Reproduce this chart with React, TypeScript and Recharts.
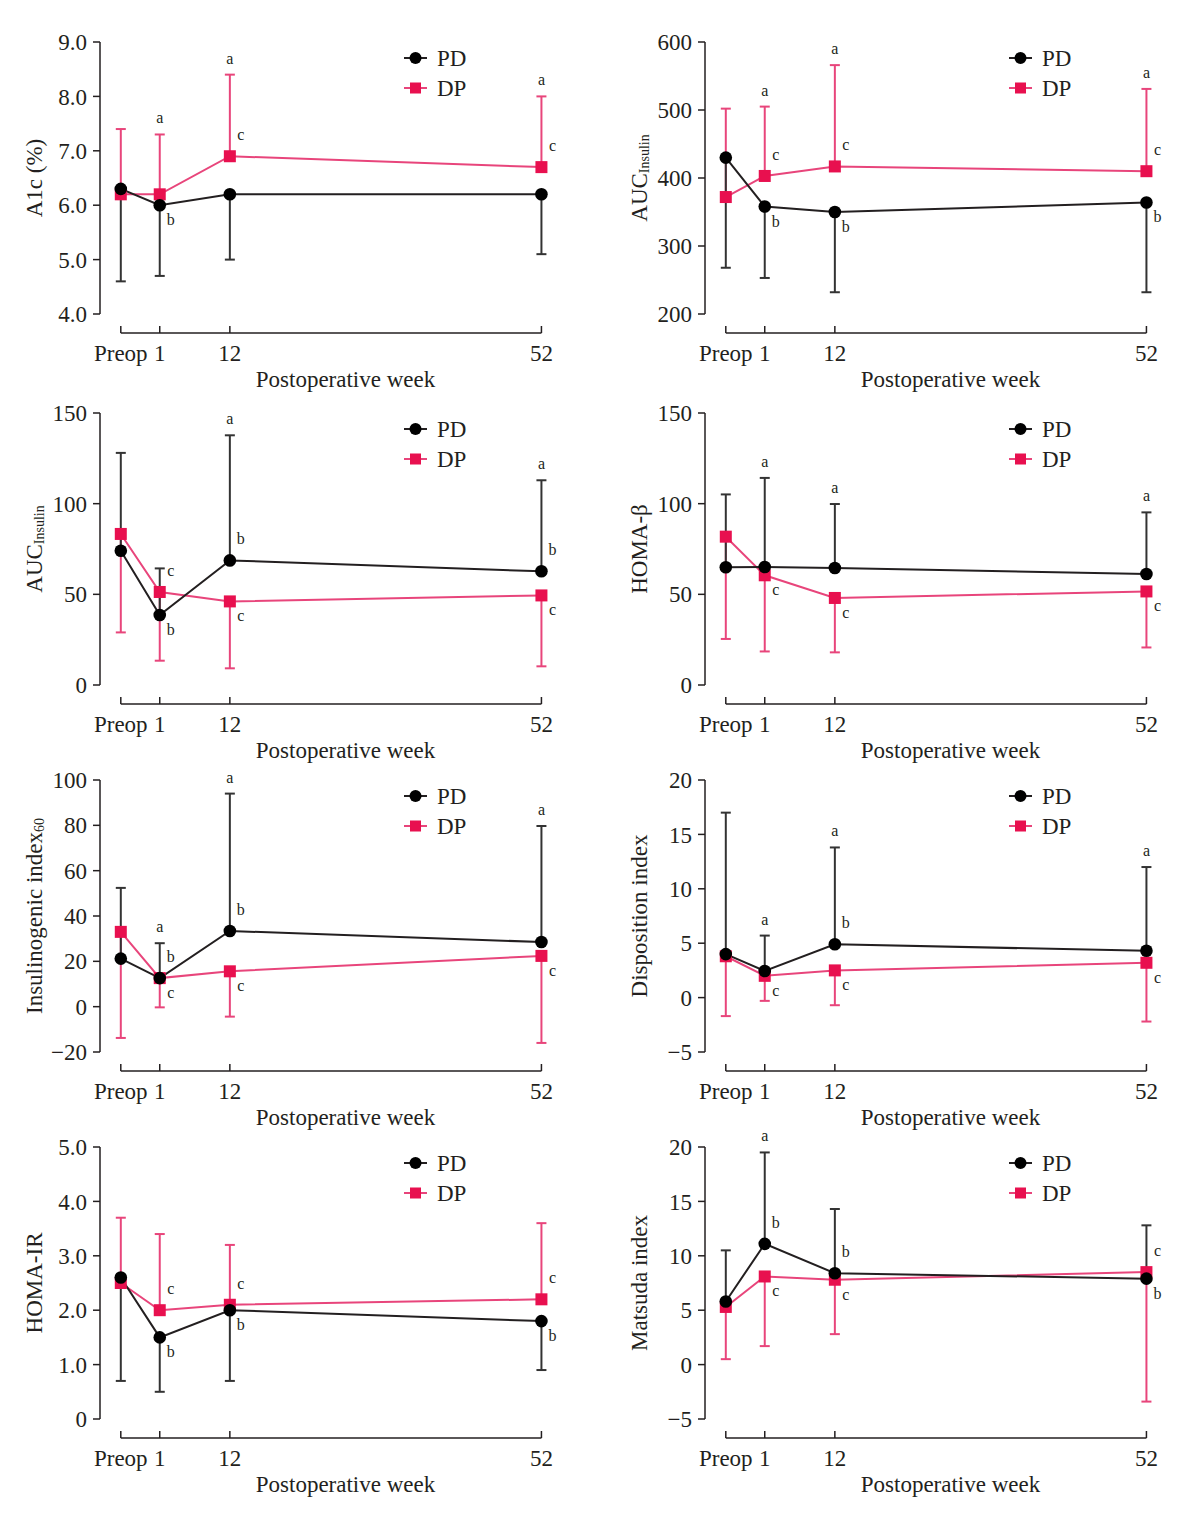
import { ComposedChart, Line, XAxis, YAxis, ErrorBar, LabelList, ReferenceLine, Legend } from 'recharts'

const WEEKS = ['Preop', '1', '12', '52']
// where each visit sits on the (not to scale) time axis
const WEEK_POS = [-4, 1, 10, 50]

// A1c (%)
const a1cPD = [6.3, 6.0, 6.2, 6.2]
const a1cPDEnd = [4.6, 4.7, 5.0, 5.1]
const a1cDP = [6.2, 6.2, 6.9, 6.7]
const a1cDPEnd = [7.4, 7.3, 8.4, 8.0]
const a1cTicks = [4, 5, 6, 7, 8, 9]

// AUC insulin (top right)
const aucPD = [430, 358, 350, 364]
const aucPDEnd = [268, 253, 232, 232]
const aucDP = [372, 403, 417, 410]
const aucDPEnd = [502, 505, 566, 531]
const aucTicks = [200, 300, 400, 500, 600]

// AUC insulin (second row left)
const auc2PD = [74, 38.6, 68.7, 62.7]
const auc2PDEnd = [128, 64.3, 137.7, 112.9]
const auc2DP = [83.3, 51.3, 46.1, 49.4]
const auc2DPEnd = [29, 13.4, 9.2, 10.3]
const auc2Ticks = [0, 50, 100, 150]

// HOMA-beta
const betaPD = [64.9, 65.1, 64.5, 61.2]
const betaPDEnd = [105.1, 114.2, 99.8, 95.2]
const betaDP = [81.8, 60.5, 48, 51.6]
const betaDPEnd = [25.4, 18.5, 18, 20.7]
const betaTicks = [0, 50, 100, 150]

// Insulinogenic index 60
const igiPD = [21.2, 12.6, 33.4, 28.5]
const igiPDEnd = [52.4, 28, 94, 79.7]
const igiDP = [33, 12.6, 15.6, 22.4]
const igiDPEnd = [-13.8, -0.3, -4.4, -16]
const igiTicks = [-20, 0, 20, 40, 60, 80, 100]

// Disposition index
const diPD = [4.0, 2.45, 4.9, 4.3]
const diPDEnd = [17.0, 5.7, 13.8, 12.0]
const diDP = [3.8, 2.0, 2.5, 3.2]
const diDPEnd = [-1.7, -0.3, -0.7, -2.2]
const diTicks = [-5, 0, 5, 10, 15, 20]

// HOMA-IR
const irPD = [2.6, 1.5, 2.0, 1.8]
const irPDEnd = [0.7, 0.5, 0.7, 0.9]
const irDP = [2.5, 2.0, 2.1, 2.2]
const irDPEnd = [3.7, 3.4, 3.2, 3.6]
const irTicks = [0, 1, 2, 3, 4, 5]

// Matsuda index
const msPD = [5.8, 11.1, 8.4, 7.9]
const msPDEnd = [10.5, 19.5, 14.3, 12.8]
const msDP = [5.3, 8.1, 7.8, 8.5]
const msDPEnd = [0.5, 1.7, 2.8, -3.4]
const msTicks = [-5, 0, 5, 10, 15, 20]

const NONE = ['', '', '', '']

const FONT = '"Liberation Serif", "Times New Roman", serif'
const INK = '#231f20'
const DP_LINE = '#e8457b'
const DP_FILL = '#e8104f'
const FS = 23

const CHART_W = 580
const CHART_H = 393
const TOP = 42
const X_H = 60
const PLOT_H = CHART_H - TOP - X_H
const TICK_SPAN = 272
const X_MIN = -6.67
const X_MAX = 52.64

interface PanelDef {
  left: number
  top: number
  label: string
  sub?: string
  decimals: number
  ticks: number[]
  pd: number[]
  pdEnd: number[]
  dp: number[]
  dpEnd: number[]
  pdTop: string[]
  pdSide: string[]
  dpTop: string[]
  dpSide: string[]
}

const COL = [0, 605]
const ROW = [0, 371, 738, 1105]

const PANELS: PanelDef[] = [
  { left: COL[0], top: ROW[0], label: 'A1c (%)', decimals: 1, ticks: a1cTicks, pd: a1cPD, pdEnd: a1cPDEnd, dp: a1cDP, dpEnd: a1cDPEnd,
    pdTop: NONE, pdSide: ['', 'b', '', ''], dpTop: ['', 'a', 'a', 'a'], dpSide: ['', '', 'c', 'c'] },
  { left: COL[1], top: ROW[0], label: 'AUC', sub: 'Insulin', decimals: 0, ticks: aucTicks, pd: aucPD, pdEnd: aucPDEnd, dp: aucDP, dpEnd: aucDPEnd,
    pdTop: NONE, pdSide: ['', 'b', 'b', 'b'], dpTop: ['', 'a', 'a', 'a'], dpSide: ['', 'c', 'c', 'c'] },
  { left: COL[0], top: ROW[1], label: 'AUC', sub: 'Insulin', decimals: 0, ticks: auc2Ticks, pd: auc2PD, pdEnd: auc2PDEnd, dp: auc2DP, dpEnd: auc2DPEnd,
    pdTop: ['', '', 'a', 'a'], pdSide: ['', 'b', 'b', 'b'], dpTop: NONE, dpSide: ['', 'c', 'c', 'c'] },
  { left: COL[1], top: ROW[1], label: 'HOMA-β', decimals: 0, ticks: betaTicks, pd: betaPD, pdEnd: betaPDEnd, dp: betaDP, dpEnd: betaDPEnd,
    pdTop: ['', 'a', 'a', 'a'], pdSide: NONE, dpTop: NONE, dpSide: ['', 'c', 'c', 'c'] },
  { left: COL[0], top: ROW[2], label: 'Insulinogenic index', sub: '60', decimals: 0, ticks: igiTicks, pd: igiPD, pdEnd: igiPDEnd, dp: igiDP, dpEnd: igiDPEnd,
    pdTop: ['', 'a', 'a', 'a'], pdSide: ['', 'b', 'b', ''], dpTop: NONE, dpSide: ['', 'c', 'c', 'c'] },
  { left: COL[1], top: ROW[2], label: 'Disposition index', decimals: 0, ticks: diTicks, pd: diPD, pdEnd: diPDEnd, dp: diDP, dpEnd: diDPEnd,
    pdTop: ['', 'a', 'a', 'a'], pdSide: ['', '', 'b', ''], dpTop: NONE, dpSide: ['', 'c', 'c', 'c'] },
  { left: COL[0], top: ROW[3], label: 'HOMA-IR', decimals: 1, ticks: irTicks, pd: irPD, pdEnd: irPDEnd, dp: irDP, dpEnd: irDPEnd,
    pdTop: NONE, pdSide: ['', 'b', 'b', 'b'], dpTop: NONE, dpSide: ['', 'c', 'c', 'c'] },
  { left: COL[1], top: ROW[3], label: 'Matsuda index', decimals: 0, ticks: msTicks, pd: msPD, pdEnd: msPDEnd, dp: msDP, dpEnd: msDPEnd,
    pdTop: ['', 'a', '', ''], pdSide: ['', 'b', 'b', 'b'], dpTop: NONE, dpSide: ['', 'c', 'c', 'c'] },
]

function buildRows(p: PanelDef) {
  return WEEK_POS.map((x, i) => {
    const pdUp = p.pdEnd[i] > p.pd[i]
    const dpUp = p.dpEnd[i] > p.dp[i]
    // the b/c letters sit on the side away from the other group
    const pdAbove = p.pd[i] === p.dp[i] ? pdUp : p.pd[i] > p.dp[i]
    const dpAbove = p.pd[i] === p.dp[i] ? dpUp : p.dp[i] > p.pd[i]
    return {
      x,
      pd: p.pd[i],
      dp: p.dp[i],
      pdEnd: p.pdEnd[i],
      dpEnd: p.dpEnd[i],
      pdErr: pdUp ? [0, p.pdEnd[i] - p.pd[i]] : [p.pd[i] - p.pdEnd[i], 0],
      dpErr: dpUp ? [0, p.dpEnd[i] - p.dp[i]] : [p.dp[i] - p.dpEnd[i], 0],
      pdTop: pdUp ? p.pdTop[i] : '',
      dpTop: dpUp ? p.dpTop[i] : '',
      pdSideUp: pdAbove ? p.pdSide[i] : '',
      pdSideDown: pdAbove ? '' : p.pdSide[i],
      dpSideUp: dpAbove ? p.dpSide[i] : '',
      dpSideDown: dpAbove ? '' : p.dpSide[i],
    }
  })
}

const pos = (props: any) => {
  const vb = props.viewBox || {}
  return { x: vb.x ?? props.x, y: vb.y ?? props.y }
}

const letter = (dx: number, dy: number) => (props: any) => {
  if (!props.value) return null
  const { x, y } = pos(props)
  return (
    <text x={x + dx} y={y + dy} textAnchor="middle" fontFamily={FONT} fontSize={16} fill={INK}>
      {props.value}
    </text>
  )
}

const topLetter = letter(0, -11)
const aboveLetter = letter(11, -16)
const belowLetter = letter(11, 20)

const WeekTick = (props: any) => {
  const { x, y, payload } = props
  const label = WEEKS[WEEK_POS.indexOf(payload.value)]
  return (
    <g>
      <line x1={x} x2={x} y1={y - 7} y2={y} stroke={INK} strokeWidth={1.5} />
      <text x={x} y={y + 28} textAnchor="middle" fontFamily={FONT} fontSize={FS} fill={INK}>
        {label}
      </text>
    </g>
  )
}

const xTitle = (props: any) => {
  const vb = props.viewBox
  return (
    <text x={vb.x + 245.5} y={vb.y + 54} textAnchor="middle" fontFamily={FONT} fontSize={FS} fill={INK}>
      Postoperative week
    </text>
  )
}

const yTitle = (p: PanelDef) => (props: any) => {
  const vb = props.viewBox
  const cx = vb.x + 14
  const cy = vb.y + TICK_SPAN / 2
  return (
    <text
      x={cx}
      y={cy}
      transform={`rotate(-90 ${cx} ${cy})`}
      textAnchor="middle"
      dominantBaseline="central"
      fontFamily={FONT}
      fontSize={FS}
      fill={INK}
    >
      {p.label}
      {p.sub && (
        <tspan fontSize={14} dy={5}>
          {p.sub}
        </tspan>
      )}
    </text>
  )
}

const LegendBox = () => (
  <svg width={90} height={60} style={{ display: 'block' }}>
    <line x1={4} x2={27} y1={14} y2={14} stroke={INK} strokeWidth={2} />
    <circle cx={15.5} cy={14} r={6} fill="#000" />
    <text x={37} y={22} fontFamily={FONT} fontSize={FS} fill={INK}>PD</text>
    <line x1={4} x2={27} y1={44} y2={44} stroke={DP_LINE} strokeWidth={2} />
    <rect x={10} y={38.5} width={11} height={11} fill={DP_FILL} />
    <text x={37} y={52} fontFamily={FONT} fontSize={FS} fill={INK}>DP</text>
  </svg>
)

const squareDot = (props: any) => {
  const { cx, cy, index } = props
  return <rect key={`sq-${index}`} x={cx - 6} y={cy - 6} width={12} height={12} fill={DP_FILL} />
}

function fmtTick(decimals: number) {
  return (v: number) => {
    if (v === 0) return '0'
    const s = Math.abs(v).toFixed(decimals)
    return v < 0 ? `\u2212${s}` : s
  }
}

function Panel({ p }: { p: PanelDef }) {
  const rows = buildRows(p)
  const yMin = p.ticks[0]
  const yMax = p.ticks[p.ticks.length - 1]
  const yLow = yMin - ((yMax - yMin) * (PLOT_H - TICK_SPAN)) / TICK_SPAN

  return (
    <div style={{ position: 'absolute', left: p.left, top: p.top }}>
      <ComposedChart width={CHART_W} height={CHART_H} data={rows} margin={{ top: TOP, right: 18, bottom: 0, left: 20 }}>
        <XAxis
          type="number"
          dataKey="x"
          domain={[X_MIN, X_MAX]}
          ticks={WEEK_POS}
          interval={0}
          axisLine={false}
          tickLine={false}
          tickSize={0}
          tickMargin={0}
          height={X_H}
          tick={WeekTick}
          label={xTitle}
        />
        <YAxis
          type="number"
          domain={[yLow, yMax]}
          ticks={p.ticks}
          interval={0}
          width={80}
          axisLine={false}
          tickLine={{ stroke: INK, strokeWidth: 1.5 }}
          tickSize={7}
          tickMargin={6}
          tick={{ fontFamily: FONT, fontSize: FS, fill: INK }}
          tickFormatter={fmtTick(p.decimals)}
          label={yTitle(p)}
        />
        <ReferenceLine
          segment={[{ x: X_MIN, y: yMin }, { x: X_MIN, y: yMax }]}
          stroke={INK}
          strokeWidth={1.5}
          ifOverflow="visible"
        />
        <ReferenceLine
          segment={[{ x: WEEK_POS[0], y: yLow }, { x: WEEK_POS[WEEK_POS.length - 1], y: yLow }]}
          stroke={INK}
          strokeWidth={1.5}
          ifOverflow="visible"
        />
        <Line
          dataKey="dp"
          stroke={DP_LINE}
          strokeWidth={2}
          dot={squareDot}
          activeDot={false}
          isAnimationActive={false}
        >
          <ErrorBar dataKey="dpErr" direction="y" width={5} stroke={DP_LINE} strokeWidth={2} />
          <LabelList dataKey="dpSideUp" content={aboveLetter} />
          <LabelList dataKey="dpSideDown" content={belowLetter} />
        </Line>
        <Line
          dataKey="pd"
          stroke={INK}
          strokeWidth={2}
          dot={{ r: 6.3, fill: '#000', stroke: '#000', strokeWidth: 0 }}
          activeDot={false}
          isAnimationActive={false}
        >
          <ErrorBar dataKey="pdErr" direction="y" width={5} stroke="#333" strokeWidth={2} />
          <LabelList dataKey="pdSideUp" content={aboveLetter} />
          <LabelList dataKey="pdSideDown" content={belowLetter} />
        </Line>
        <Line dataKey="dpEnd" stroke="none" dot={false} activeDot={false} isAnimationActive={false} legendType="none">
          <LabelList dataKey="dpTop" content={topLetter} />
        </Line>
        <Line dataKey="pdEnd" stroke="none" dot={false} activeDot={false} isAnimationActive={false} legendType="none">
          <LabelList dataKey="pdTop" content={topLetter} />
        </Line>
        <Legend
          layout="vertical"
          align="center"
          verticalAlign="middle"
          content={LegendBox}
          wrapperStyle={{ left: 400, top: 44, width: 90, height: 60 }}
        />
      </ComposedChart>
    </div>
  )
}

export default function App() {
  return (
    <div style={{ position: 'absolute', left: 0, top: 0, width: 1184, height: 1523, background: '#fff' }}>
      {PANELS.map((p, i) => (
        <Panel key={i} p={p} />
      ))}
    </div>
  )
}
